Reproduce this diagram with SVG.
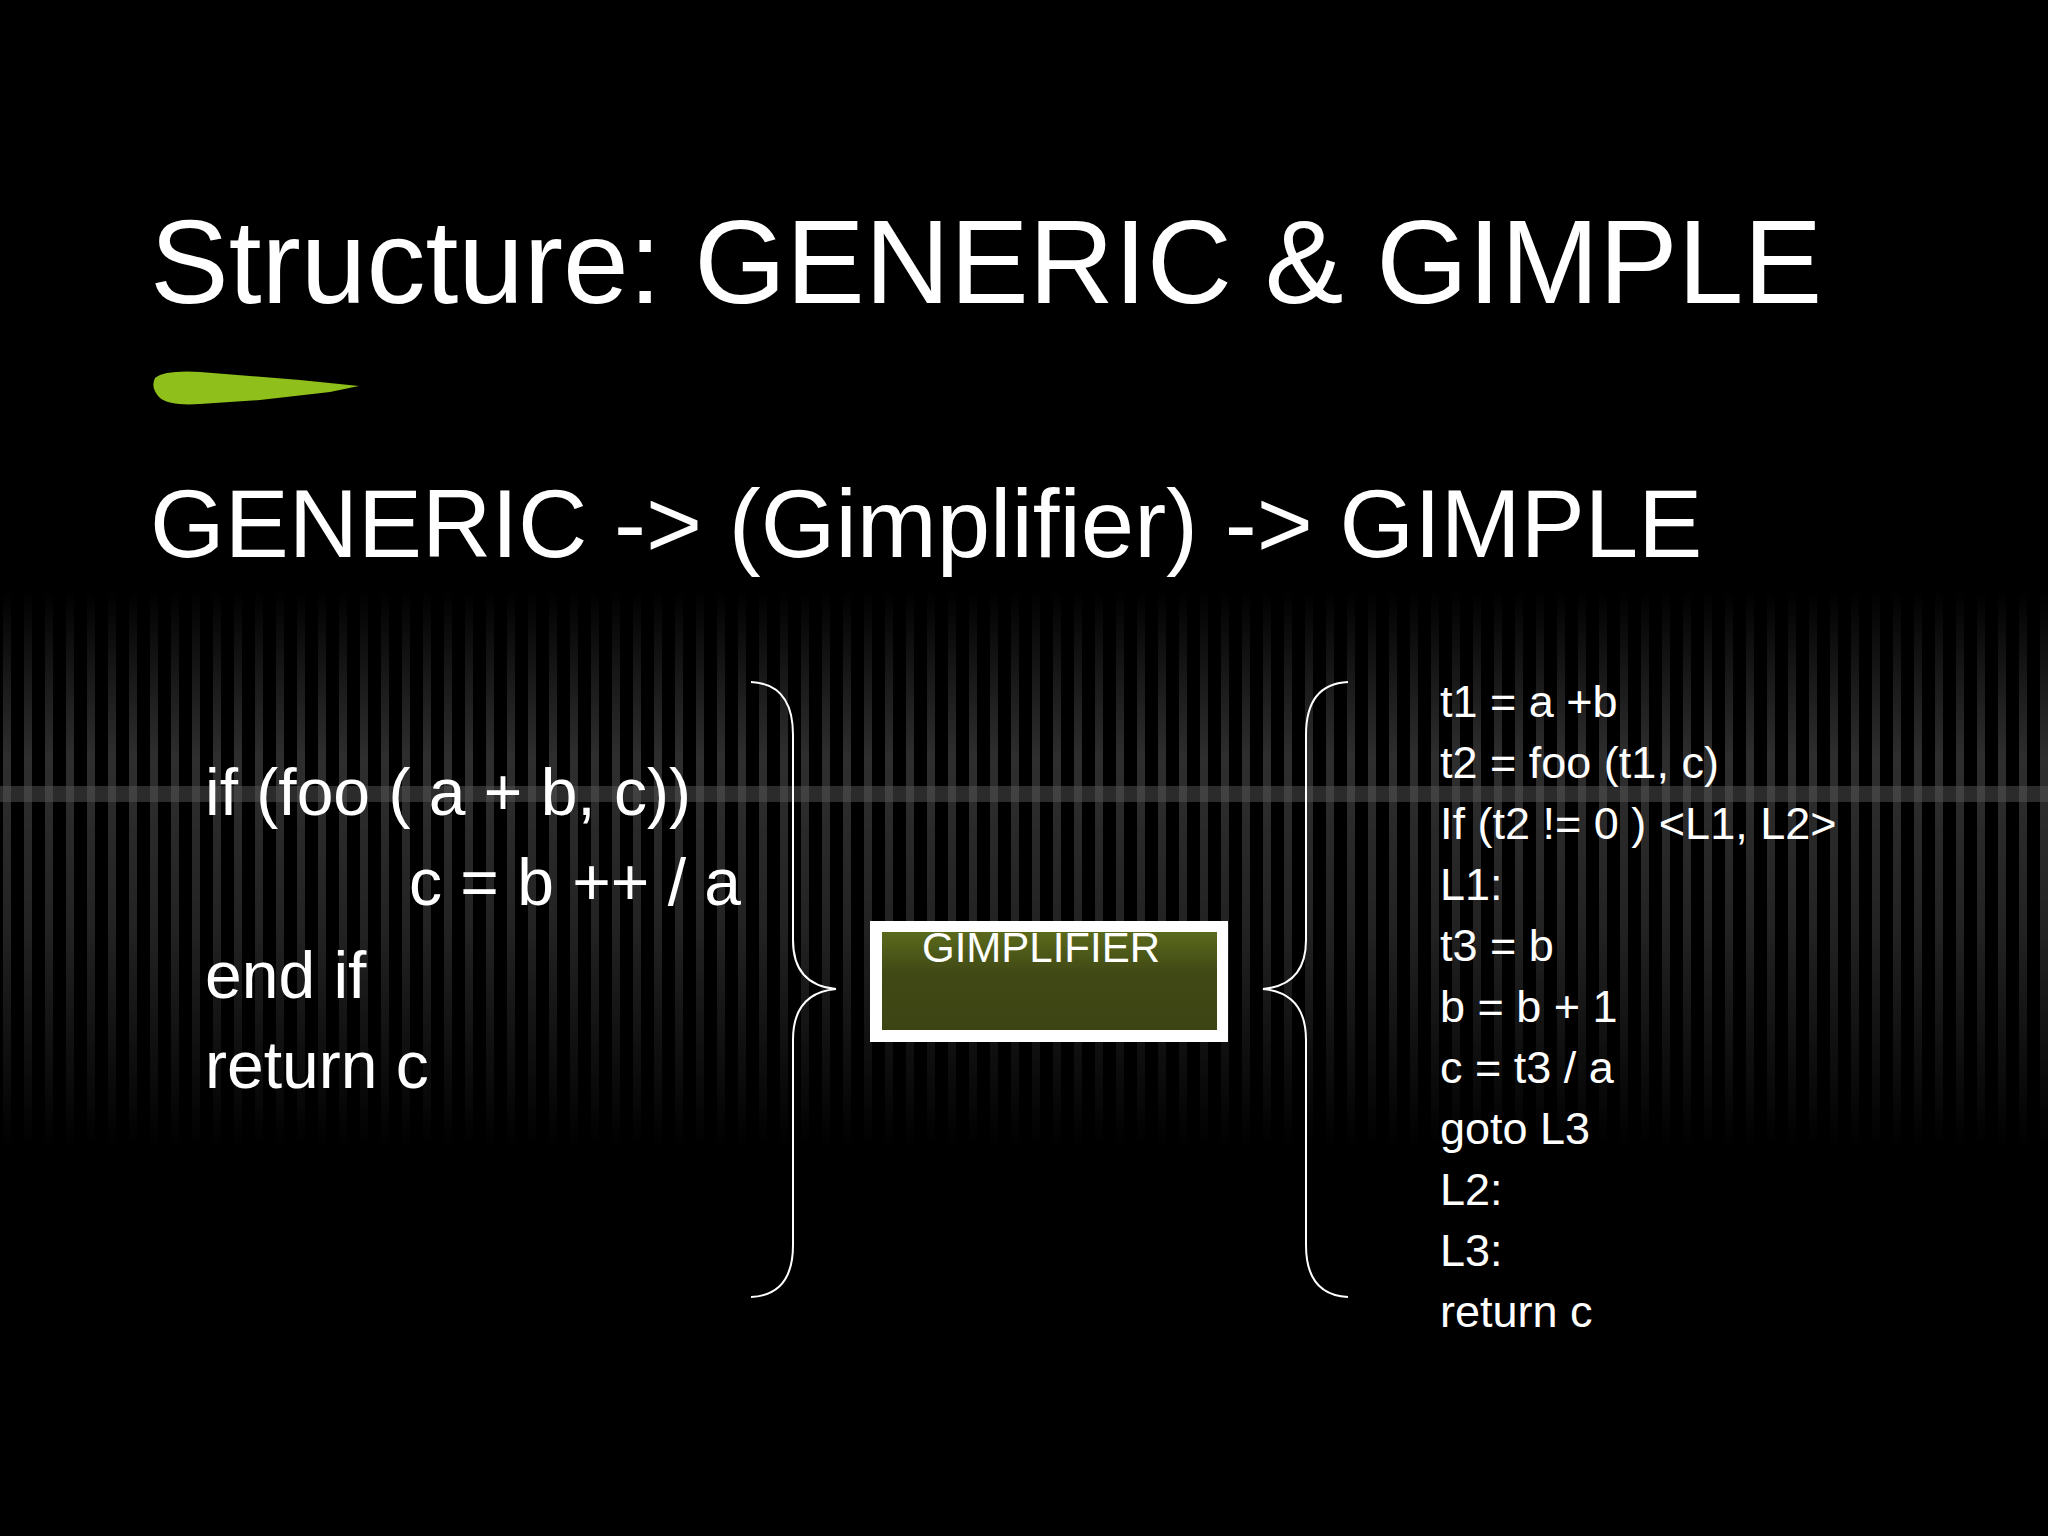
<svg xmlns="http://www.w3.org/2000/svg" width="2048" height="1536" viewBox="0 0 2048 1536">
<defs>
<style>
text{font-family:"Liberation Sans",Arial,sans-serif;fill:#fff}
.code{font-size:66px}
.g{font-size:45px}
.br{fill:none;stroke:#fff;stroke-width:2}
</style>
<pattern id="st" width="21" height="20" patternUnits="userSpaceOnUse">
<rect width="21" height="20" fill="#000"/>
<rect x="3" width="8" height="20" fill="#3a3a3a"/>
</pattern>
<linearGradient id="fade" x1="0" y1="0" x2="0" y2="1">
<stop offset="0" stop-color="#fff" stop-opacity="0"/>
<stop offset="0.3" stop-color="#fff" stop-opacity="0.8"/>
<stop offset="0.6" stop-color="#fff" stop-opacity="0.6"/>
<stop offset="1" stop-color="#fff" stop-opacity="0"/>
</linearGradient>
<mask id="m"><rect x="0" y="590" width="2048" height="560" fill="url(#fade)"/></mask>
<linearGradient id="gr" x1="0" y1="0" x2="0" y2="1">
<stop offset="0" stop-color="#5a6a1c"/>
<stop offset="0.4" stop-color="#414a15"/>
<stop offset="1" stop-color="#3c4414"/>
</linearGradient>
</defs>
<rect width="2048" height="1536" fill="#000"/>
<rect x="0" y="590" width="2048" height="560" fill="url(#st)" mask="url(#m)"/>
<rect x="0" y="786" width="2048" height="16" fill="#555" opacity="0.5"/>
<text x="150" y="303" font-size="118">Structure: GENERIC &amp; GIMPLE</text>
<path d="M155 378 Q165 370 200 372 L300 380 L359 386 L330 392 L260 400 L200 404 Q170 406 160 398 Q150 388 155 378Z" fill="#8fbf1a"/>
<text x="150" y="557" font-size="96">GENERIC -&gt; (Gimplifier) -&gt; GIMPLE</text>
<g id="left-code">
<text class="code" x="205" y="815">if (foo ( a + b, c))</text>
<text class="code" x="409" y="905">c = b ++ / a</text>
<text class="code" x="205" y="998">end if</text>
<text class="code" x="205" y="1088">return c</text>
</g>
<g id="connectors">
<path class="br" d="M751 682 Q793 684 793 735 L793 940 Q793 985 836 989 Q793 993 793 1040 L793 1245 Q793 1295 751 1297"/>
<path class="br" d="M1348 682 Q1306 684 1306 735 L1306 940 Q1306 985 1263 989 Q1306 993 1306 1040 L1306 1245 Q1306 1295 1348 1297"/>
</g>
<g id="gimplifier">
<rect x="870" y="921" width="358" height="121" fill="#fff"/>
<rect x="882" y="932" width="335" height="98" fill="url(#gr)"/>
<text x="922" y="962" font-size="42">GIMPLIFIER</text>
</g>
<g id="gimple-code">
<text class="g" x="1440" y="717">t1 = a +b</text>
<text class="g" x="1440" y="778">t2 = foo (t1, c)</text>
<text class="g" x="1440" y="839">If (t2 != 0 ) &lt;L1, L2&gt;</text>
<text class="g" x="1440" y="900">L1:</text>
<text class="g" x="1440" y="961">t3 = b</text>
<text class="g" x="1440" y="1022">b = b + 1</text>
<text class="g" x="1440" y="1083">c = t3 / a</text>
<text class="g" x="1440" y="1144">goto L3</text>
<text class="g" x="1440" y="1205">L2:</text>
<text class="g" x="1440" y="1266">L3:</text>
<text class="g" x="1440" y="1327">return c</text>
</g>
</svg>
